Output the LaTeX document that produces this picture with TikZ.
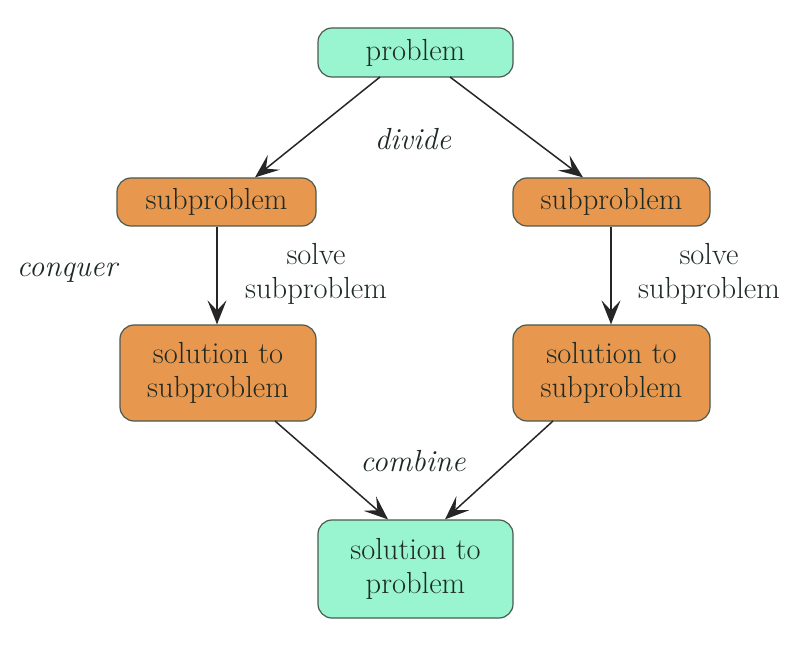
\documentclass[tikz,border=0pt]{standalone}
\usepackage{fontspec}
\usetikzlibrary{arrows.meta}
\definecolor{mint}{HTML}{98F5CF}
\definecolor{orng}{HTML}{E8974F}
\definecolor{bord}{HTML}{4A5A50}
\definecolor{txt}{HTML}{1E2A24}
\newcommand{\diagfont}{\addfontfeatures{FakeBold=0.6}\fontsize{30.5}{34}\selectfont}
\begin{document}
\begin{tikzpicture}[x=1pt,y=-1pt,
  font=\diagfont,
  box/.style={draw=bord, line width=1.2pt, rounded corners=14pt, text=txt, align=center, inner sep=0pt},
  gbox/.style={box, fill=mint},
  obox/.style={box, fill=orng},
  arr/.style={-{Stealth[length=24pt,width=19pt,inset=10pt]}, line width=1.5pt, draw=black!85},
  lab/.style={text=txt, align=center},
  ilab/.style={lab, font=\itshape\diagfont}]
\useasboundingbox (0,0) rectangle (812,655);
\node[gbox, minimum width=195pt, minimum height=49pt] (p) at (415.5,52.5) {problem};
\node[obox, minimum width=199pt, minimum height=48pt] (sl) at (216.5,202) {subproblem};
\node[obox, minimum width=197pt, minimum height=48pt] (sr) at (611.5,202) {subproblem};
\node[obox, minimum width=196pt, minimum height=96pt] (ol) at (218,373) {solution to\\subproblem};
\node[obox, minimum width=197pt, minimum height=96pt] (or) at (611.5,373) {solution to\\subproblem};
\node[gbox, minimum width=195pt, minimum height=98pt] (b) at (415.5,569) {solution to\\problem};
\coordinate (p1) at (380,77);
\coordinate (p2) at (450,77);
\draw[arr] (p1) -- (sl.north -| 255,0);
\draw[arr] (p2) -- (sr.north -| 583,0);
\draw[arr] (sl.south -| 217,0) -- (ol.north -| 217,0);
\draw[arr] (sr.south -| 611,0) -- (or.north -| 611,0);
\coordinate (q1) at (275,421);
\coordinate (q2) at (553,421);
\draw[arr] (q1) -- (b.north -| 388,0);
\draw[arr] (q2) -- (b.north -| 445,0);
\node[ilab] (dv) at (413,139) {divide};
\node[ilab] (cq) at (67,273) {conquer};
\node[ilab] (cb) at (413,461) {combine};
\node[lab] (s1) at (316,274) {solve\\subproblem};
\node[lab] (s2) at (709,274) {solve\\subproblem};
\end{tikzpicture}
\end{document}
